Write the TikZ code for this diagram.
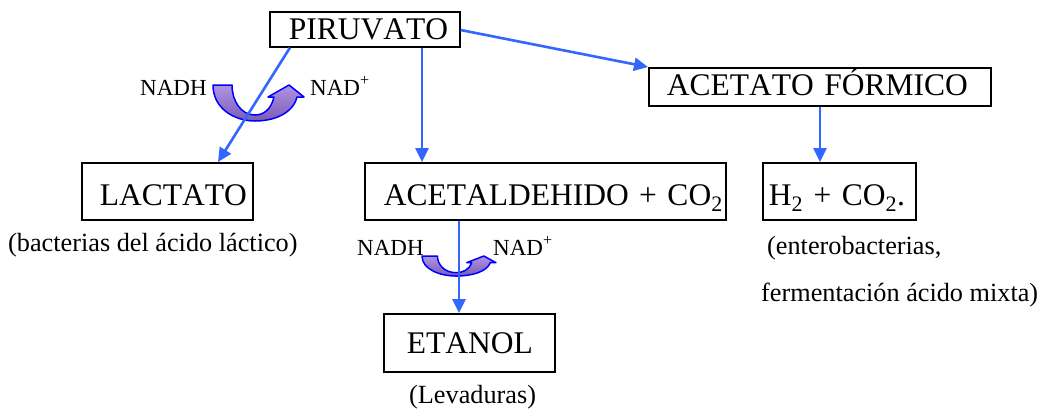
\documentclass[tikz,border=0pt]{standalone}
\usepackage{fontspec}
\setmainfont[Kerning=Off]{Liberation Serif}
\usetikzlibrary{arrows.meta}

\definecolor{flow}{RGB}{51,102,255}
\definecolor{redox}{RGB}{0,0,255}
\definecolor{lilac}{RGB}{176,148,228}
\definecolor{plum}{RGB}{122,92,182}

\tikzset{
  box/.style={draw, line width=1.6pt, anchor=north west, inner ysep=0pt,
    align=left, font=\fontsize{31.5}{36}\selectfont},
  flowarrow/.style={draw=flow, line width=2.6pt, -{Triangle[length=14pt,width=13pt]}},
  caption/.style={anchor=base west, inner sep=0pt, font=\fontsize{26.25}{30}\selectfont},
  cofactor/.style={anchor=base west, inner sep=0pt, font=\fontsize{23}{26}\selectfont},
  redoxband/.style={draw=redox, line width=1.5pt, line join=round,
    top color=lilac, bottom color=plum},
}

% U-shaped arrow for the NADH -> NAD+ conversion (local units: px, y down)
\newcommand{\redoxarrow}{%
  \path[redoxband] (0,0) .. controls (0,24) and (22,36) .. (42,36)
    .. controls (62,36) and (80,28) .. (84,12) -- (91,12) -- (76,0) -- (55,12) -- (61,12)
    .. controls (58,25) and (50,30) .. (42,30)
    .. controls (28,30) and (19,16) .. (19,0) -- cycle;}

\begin{document}
\begin{tikzpicture}[x=1pt,y=-1pt]
\useasboundingbox (0,0) rectangle (1047,408);

% boxes
\node[box, inner xsep=19pt, text width=152pt, minimum height=35pt,
  text height=28pt, text depth=7pt] (pir) at (269,11) {\mbox{PIRUVATO}};
\node[box, inner xsep=18pt, text width=306pt, minimum height=38pt,
  text height=28pt, text depth=10pt] (acf) at (648,67) {\mbox{ACETATO FÓRMICO}};
\node[box, inner xsep=18pt, text width=135pt, minimum height=57pt,
  text height=43pt, text depth=14pt] (lac) at (81,162) {\mbox{LACTATO}};
\node[box, inner xsep=19pt, text width=323pt, minimum height=57pt,
  text height=43pt, text depth=14pt] (ald) at (364,162) {\mbox{ACETALDEHIDO + CO\textsubscript{2}}};
\node[box, inner xsep=6pt, text width=141pt, minimum height=57pt,
  text height=43pt, text depth=14pt] (h2) at (762,162) {\mbox{H\textsubscript{2} + CO\textsubscript{2}.}};
\node[box, inner xsep=23pt, text width=125pt, minimum height=58pt,
  text height=40pt, text depth=18pt] (eta) at (383,313) {\mbox{ETANOL}};

% organism captions
\node[caption] (labcap) at (8,251) {(bacterias del ácido láctico)};
\node[caption] (entcap) at (767,254) {(enterobacterias,};
\node[caption] (mixcap) at (761,301) {fermentación ácido mixta)};
\node[caption] (levcap) at (409,403) {(Levaduras)};

% cofactor labels
\node[cofactor] (nadhA) at (140,95) {NADH};
\node[cofactor] (nadA) at (310,95) {NAD\textsuperscript{+}};
\node[cofactor] (nadhB) at (357,255) {NADH};
\node[cofactor] (nadB) at (493,255) {NAD\textsuperscript{+}};

% redox arrows
\begin{scope}[shift={(213,85)}]
  \redoxarrow
\end{scope}
\begin{scope}[shift={(422,256)}, xscale=0.813, yscale=0.556]
  \redoxarrow
\end{scope}

% pathways
\draw[flowarrow] ([xshift=21pt]pir.south west) -- ([xshift=137pt]lac.north west);
\draw[flowarrow] ([xshift=153pt]pir.south west) -- ([xshift=58pt]ald.north west);
\draw[flowarrow] ([yshift=-19pt]pir.north east) -- (acf.north west);
\draw[flowarrow] ([xshift=172pt]acf.south west) -- ([xshift=58pt]h2.north west);
\draw[flowarrow] ([xshift=95pt]ald.south west) -- ([xshift=76pt]eta.north west);
\end{tikzpicture}
\end{document}
